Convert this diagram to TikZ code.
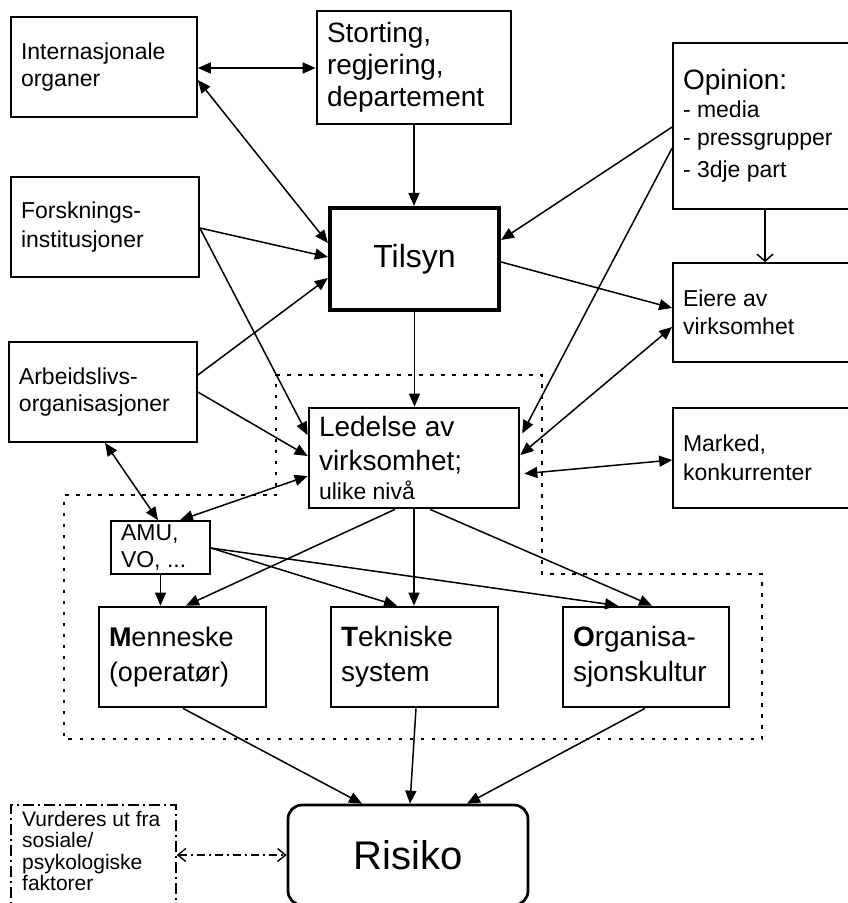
\documentclass[tikz,border=0pt]{standalone}
\usepackage{fontspec}
\setmainfont{Liberation Sans}
\usetikzlibrary{arrows.meta}

% a box given by its corners (x1,y1)-(x2,y2), text set inside it
\newcommand{\placebox}[7][]{%
  \pgfmathsetmacro{\mybw}{#5-#3}%
  \pgfmathsetmacro{\mybh}{#6-#4}%
  \pgfmathsetmacro{\mybcx}{(#3+#5)/2}%
  \pgfmathsetmacro{\mybcy}{(#4+#6)/2}%
  \pgfmathsetmacro{\mybtw}{#5-#3-20}%
  \node[boxbase, #1, minimum width=\mybw pt, minimum height=\mybh pt,
        text width=\mybtw pt] (#2) at (\mybcx,\mybcy) {#7};}

\tikzset{
  boxbase/.style={draw, rectangle, fill=white, inner xsep=10pt, inner ysep=0pt,
                  align=flush left, line width=1.7pt},
  thinbox/.style={line width=1.7pt},
  midbox/.style={line width=2.7pt},
  heavybox/.style={line width=4.2pt},
  vurdline/.style={line width=1.4pt, dash pattern=on 11pt off 4pt on 2pt off 4pt},
  region/.style={line width=1.7pt, dash pattern=on 3.5pt off 7.5pt},
  tipfull/.tip={Triangle[length=13pt,width=11pt]},
  tipopen/.tip={Straight Barb[length=7pt,width=16pt]},
  link/.style={line width=1.5pt, -tipfull},
  dlink/.style={line width=1.5pt, tipfull-tipfull},
  openlink/.style={line width=1.5pt, -tipopen},
  dashlink/.style={line width=1.4pt, dash pattern=on 8pt off 4pt on 2pt off 4pt,
                {Straight Barb[length=8pt,width=13pt]}-{Straight Barb[length=8pt,width=13pt]}},
}

\begin{document}
\begin{tikzpicture}[x=1pt,y=-1pt]
\useasboundingbox (0,0) rectangle (848,903);
\fill[white] (0,0) rectangle (848,903);

% the dotted area round the company and its three parts
\draw[region] (276,375) -- (542,375) -- (542,574) -- (762,574) -- (762,739)
  -- (64,739) -- (64,495) -- (276,495) -- cycle;

% boxes
\placebox[thinbox, font=\fontsize{23}{27}\selectfont]{intl}{11}{17}{197}{117}{Internasjonale\\organer}
\placebox[midbox, font=\fontsize{28}{32}\selectfont]{stort}{317}{11}{511}{124}{Storting,\\regjering,\\departement}
\placebox[thinbox, font=\fontsize{23}{29}\selectfont]{forsk}{11}{177}{199}{277}{Forsknings-\\institusjoner}
\placebox[heavybox, align=flush center, font=\fontsize{32}{38}\selectfont]{tilsyn}{330}{208}{499}{310}{Tilsyn}
\placebox[thinbox, font=\fontsize{28}{32}\selectfont]{opinion}{673}{43}{862}{209}{Opinion:\\\fontsize{23}{28}\selectfont - media\\- pressgrupper\\- 3dje part}
\placebox[thinbox, font=\fontsize{23}{28}\selectfont]{eiere}{673}{263}{862}{362}{Eiere av\\virksomhet}
\placebox[thinbox, font=\fontsize{23}{27}\selectfont]{arbeid}{9}{342}{197}{442}{Arbeidslivs-\\organisasjoner}
\placebox[midbox, font=\fontsize{28}{29}\selectfont]{ledelse}{309}{408}{519}{508}{Ledelse av\\[5pt]virksomhet;\\\fontsize{23}{29}\selectfont ulike nivå}
\placebox[thinbox, font=\fontsize{23}{29}\selectfont]{marked}{673}{408}{862}{508}{Marked,\\konkurrenter}
\placebox[thinbox, font=\fontsize{23}{27}\selectfont]{amu}{111}{521}{210}{574}{AMU,\\VO, ...}
\placebox[midbox, font=\fontsize{27}{35}\selectfont]{menneske}{99}{607}{266}{707}{\textbf{M}enneske\\(operatør)}
\placebox[midbox, font=\fontsize{28}{35}\selectfont]{tekn}{331}{607}{498}{707}{\textbf{T}ekniske\\system}
\placebox[midbox, font=\fontsize{28}{35}\selectfont]{org}{563}{607}{729}{707}{\textbf{O}rganisa-\\sjonskultur}
\placebox[midbox, rounded corners=14pt, align=flush center, font=\fontsize{40}{48}\selectfont]{risiko}{288}{805}{528}{905}{Risiko}
\placebox[vurdline]{vurd}{11}{805}{176}{960}{}
\node[anchor=north west, inner sep=0pt, text width=150pt, align=flush left,
      font=\fontsize{21}{21.5}\selectfont] (vurdtext) at (22,811)
      {Vurderes ut fra\\sosiale/\\psykologiske\\faktorer};

% connectors
\draw[dlink] (intl.east |- 0,68) -- (stort.west |- 0,68);
\draw[dlink] (intl.east |- 0,80) -- (tilsyn.west |- 0,243);
\draw[link] (stort.south) -- (tilsyn.north -| stort.south);
\draw[link] (forsk.east |- 0,228) -- (tilsyn.west |- 0,257);
\draw[link] (forsk.east |- 0,228) -- (ledelse.west |- 0,435);
\draw[link] (arbeid.east |- 0,375) -- (tilsyn.west |- 0,278);
\draw[link] (arbeid.east |- 0,392) -- (ledelse.west |- 0,456);
\draw[dlink] (arbeid.south -| 105,0) -- (amu.north -| 158,0);
\draw[dlink] (amu.north -| 180,0) -- (ledelse.west |- 0,476);
\draw[link] (amu.south) -- (menneske.north -| amu.south);
\draw[link] (amu.east |- 0,548) -- (tekn.north -| 397,0);
\draw[link] (amu.east |- 0,548) -- (org.north -| 618,0);
\draw[link] (ledelse.south -| 395,0) -- (menneske.north -| 186,0);
\draw[link] (ledelse.south) -- (tekn.north -| ledelse.south);
\draw[link] (ledelse.south -| 430,0) -- (org.north -| 652,0);
\draw[link] (tilsyn.south) -- (ledelse.north -| tilsyn.south);
\draw[link] (tilsyn.east |- 0,262) -- (eiere.west |- 0,308);
\draw[dlink] (ledelse.east |- 0,455) -- (eiere.west |- 0,327);
\draw[link] (opinion.west |- 0,127) -- (tilsyn.east |- 0,240);
\draw[link, shorten >=4pt] (opinion.west |- 0,148) -- (ledelse.east |- 0,437);
\draw[dlink, shorten <=4pt] (ledelse.east |- 0,474) -- (marked.west |- 0,460);
\draw[openlink] (opinion.south -| 765,0) -- (eiere.north -| 765,0);
\draw[link] (menneske.south -| 183,0) -- (risiko.north -| 362,0);
\draw[link] (tekn.south -| 416,0) -- (risiko.north -| 410,0);
\draw[link] (org.south -| 645,0) -- (risiko.north -| 467,0);
\draw[dashlink] (vurd.east |- 0,855) -- (risiko.west |- 0,855);
\end{tikzpicture}
\end{document}
